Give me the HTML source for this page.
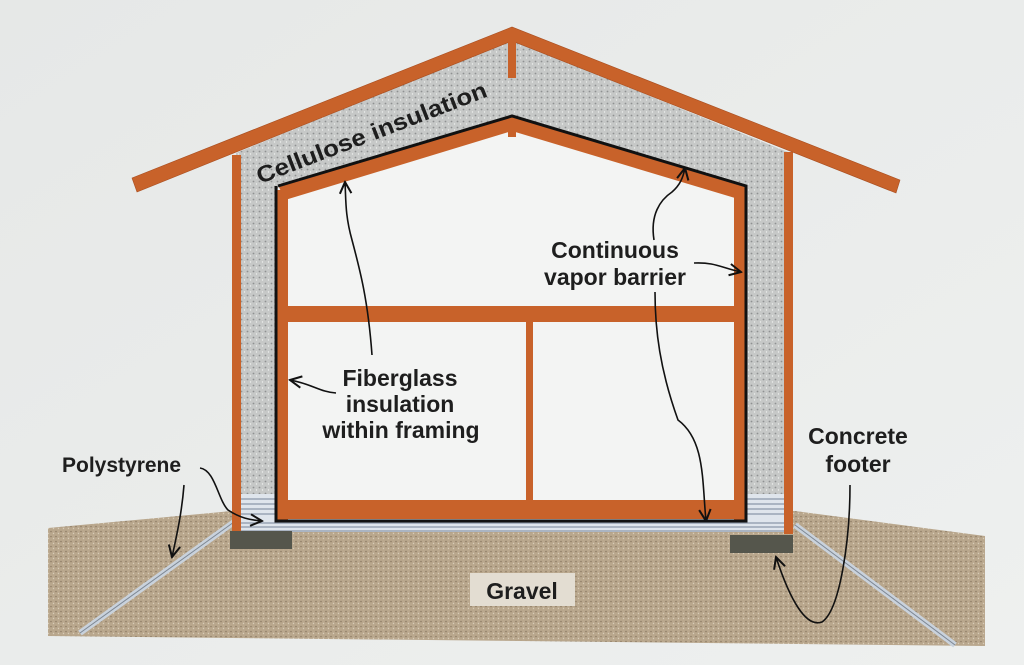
<!DOCTYPE html>
<html><head><meta charset="utf-8"><style>
html,body{margin:0;padding:0;width:1024px;height:665px;overflow:hidden;background:#e9ebea}
svg{display:block}
text{font-family:"Liberation Sans",Arial,sans-serif;fill:#1e1e1e;font-weight:bold}
</style></head><body>
<svg width="1024" height="665" viewBox="0 0 1024 665" xmlns="http://www.w3.org/2000/svg">
<defs>
<linearGradient id="bg" x1="0" y1="0" x2="1" y2="1">
<stop offset="0" stop-color="#e6e8e7"/><stop offset="1" stop-color="#eef0ef"/></linearGradient>
<pattern id="dots" width="6" height="6" patternUnits="userSpaceOnUse">
<rect width="6" height="6" fill="#c6c8c7"/>
<circle cx="1.5" cy="1.5" r="0.9" fill="#8f9191"/><circle cx="4.5" cy="4" r="0.7" fill="#eef0ef"/></pattern>
<pattern id="gdots" width="5" height="5" patternUnits="userSpaceOnUse">
<rect width="5" height="5" fill="#b9a78d"/>
<circle cx="1" cy="1.5" r="0.8" fill="#8e7d66"/><circle cx="3.5" cy="3.5" r="0.7" fill="#d8ccb8"/></pattern>
<marker id="ah" viewBox="0 0 10 10" refX="9" refY="5" markerWidth="9" markerHeight="9" orient="auto-start-reverse">
<path d="M1,1 L9,5 L1,9" fill="none" stroke="#111" stroke-width="1.4"/></marker>
</defs>
<rect width="1024" height="665" fill="url(#bg)"/>

<polygon points="48,528 232,511 795,511 985,536 985,646 48,636" fill="url(#gdots)"/>
<line x1="234" y1="522" x2="80" y2="633" stroke="#c9d2dc" stroke-width="6"/>
<line x1="234" y1="522" x2="80" y2="633" stroke="#7d8794" stroke-width="1"/>
<line x1="795" y1="525" x2="955" y2="645" stroke="#c9d2dc" stroke-width="6"/>
<line x1="795" y1="525" x2="955" y2="645" stroke="#7d8794" stroke-width="1"/>

<polygon points="236,153 512,40 790,153 790,500 236,500" fill="url(#dots)"/>
<polygon points="278,185 512,115 746,185 746,520 276,520" fill="#f3f4f3"/>

<rect x="238" y="494" width="44" height="36" fill="#dfe5ec"/>
<rect x="744" y="494" width="46" height="36" fill="#dfe5ec"/>
<rect x="238" y="518" width="552" height="14" fill="#dfe5ec"/>
<g stroke="#8b97a8" stroke-width="1.2">
<line x1="238" y1="499" x2="282" y2="499"/><line x1="238" y1="504" x2="282" y2="504"/><line x1="238" y1="509" x2="282" y2="509"/><line x1="238" y1="514" x2="282" y2="514"/>
<line x1="744" y1="499" x2="790" y2="499"/><line x1="744" y1="504" x2="790" y2="504"/><line x1="744" y1="509" x2="790" y2="509"/><line x1="744" y1="514" x2="790" y2="514"/>
<line x1="238" y1="523" x2="790" y2="523"/><line x1="238" y1="527" x2="790" y2="527"/><line x1="238" y1="531" x2="790" y2="531"/>
</g>

<rect x="232" y="155" width="9" height="377" fill="#c8622a"/>
<rect x="784" y="152" width="9" height="382" fill="#c8622a"/>
<polygon points="132,178 512,27 900,180 896,193 512,41 137,192" fill="#c8622a" stroke="#a84e20" stroke-width="0.6"/>
<rect x="508" y="38" width="8" height="40" fill="#c8622a"/>

<polygon points="279,187 512,117 745,187 745,201 512,131 285,200" fill="#c8622a"/>
<rect x="508" y="125" width="8" height="12" fill="#c8622a"/>
<rect x="277" y="190" width="11" height="330" fill="#c8622a"/>
<rect x="734" y="190" width="11" height="330" fill="#c8622a"/>
<rect x="277" y="306" width="468" height="16" fill="#c8622a"/>
<rect x="526" y="322" width="7" height="180" fill="#c8622a"/>
<rect x="277" y="500" width="468" height="19" fill="#c8622a"/>
<polyline points="278,186 512,116 746,186 746,521 276,521 276,186" fill="none" stroke="#111" stroke-width="3" stroke-linejoin="miter"/>

<rect x="230" y="531" width="62" height="18" fill="#55564c"/>
<rect x="730" y="535" width="63" height="18" fill="#55564c"/>

<rect x="470" y="573" width="105" height="33" fill="#e3ddd2"/>
<text x="522" y="599" font-size="23" text-anchor="middle">Gravel</text>

<text x="0" y="0" font-size="23" textLength="245" lengthAdjust="spacingAndGlyphs" transform="translate(260,184) rotate(-21)">Cellulose insulation</text>
<text x="615" y="258" font-size="23" text-anchor="middle">Continuous</text>
<text x="615" y="285" font-size="23" text-anchor="middle">vapor barrier</text>
<text x="400" y="386" font-size="23" text-anchor="middle">Fiberglass</text>
<text x="400" y="412" font-size="23" text-anchor="middle">insulation</text>
<text x="401" y="438" font-size="23" text-anchor="middle">within framing</text>
<text x="62" y="472" font-size="21">Polystyrene</text>
<text x="858" y="444" font-size="23" text-anchor="middle">Concrete</text>
<text x="858" y="472" font-size="23" text-anchor="middle">footer</text>

<g fill="none" stroke="#111" stroke-width="1.6" marker-end="url(#ah)">
<path d="M372,355 C368,300 360,270 352,240 C345,215 346,200 345,182"/>
<path d="M336,393 C320,392 312,384 290,380"/>
<path d="M654,240 C650,215 660,200 672,192 C680,185 683,178 685,168"/>
<path d="M694,263 C715,262 722,268 741,272"/>
<path d="M655,292 C655,330 660,370 678,420 C705,440 702,480 706,521"/>
<path d="M200,468 C215,470 218,500 228,510 C240,518 250,520 262,521"/>
<path d="M184,485 C182,510 178,530 172,557"/>
<path d="M850,485 C850,540 840,610 822,622 C806,628 790,600 776,557"/>
</g>
</svg>
</body></html>
